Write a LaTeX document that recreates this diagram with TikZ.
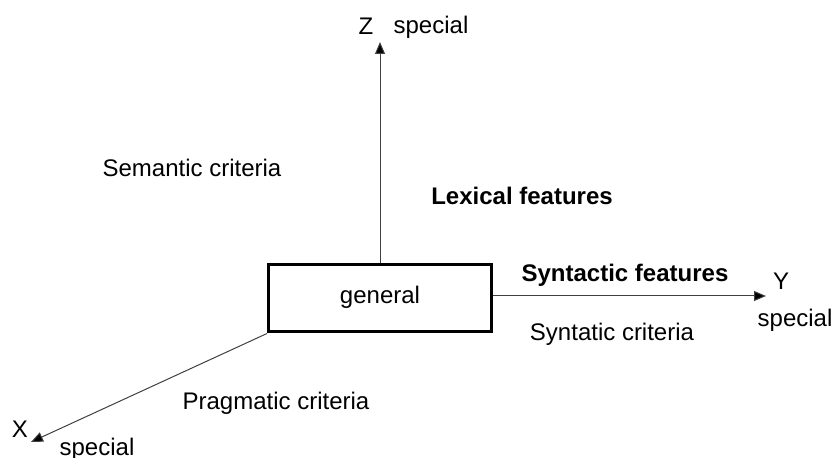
\documentclass[tikz,border=0pt]{standalone}
\usepackage{fontspec}
\setmainfont{Liberation Sans}
\usetikzlibrary{arrows.meta}
\begin{document}
\begin{tikzpicture}[x=0.5pt,y=-0.5pt,
  lbl/.style={inner sep=0pt,anchor=base,font=\fontsize{12pt}{14pt}\selectfont},
  blbl/.style={lbl,font=\fontsize{12pt}{14pt}\selectfont\bfseries},
  axis/.style={draw=black!75,line width=0.5pt,-{Triangle[length=6pt,width=5pt,fill=black]}},
  box/.style={draw=black,line width=1.5pt,fill=white,minimum width=111.5pt,minimum height=33.5pt,inner sep=0pt}]
\useasboundingbox (0,0) rectangle (833,458);
% central box
\node[box] (g) at (380,298.5) {};
\node[lbl] (gt) at (380,304) {general};
% axis end points
\coordinate (zt) at (380,42);
\coordinate (yt) at (766,296);
\coordinate (xt) at (31,442);
\draw[axis] (g.north -| zt) -- (zt);
\draw[axis] (g.east |- yt) -- (yt);
\draw[axis] (g.south west) -- (xt);
% axis labels
\node[lbl] (zl) at (366,35) {Z};
\node[lbl] (zs) at (431,34) {special};
\node[lbl] (yl) at (781,290) {Y};
\node[lbl] (ys) at (795,327) {special};
\node[lbl] (xl) at (20,437) {X};
\node[lbl] (xs) at (97,455) {special};
% criteria and features
\node[lbl] (sem) at (192,177) {Semantic criteria};
\node[blbl] (lex) at (522,205) {Lexical features};
\node[blbl] (syn) at (625,282) {Syntactic features};
\node[lbl] (syc) at (612,341) {Syntatic criteria};
\node[lbl] (pra) at (276,409) {Pragmatic criteria};
\end{tikzpicture}
\end{document}
